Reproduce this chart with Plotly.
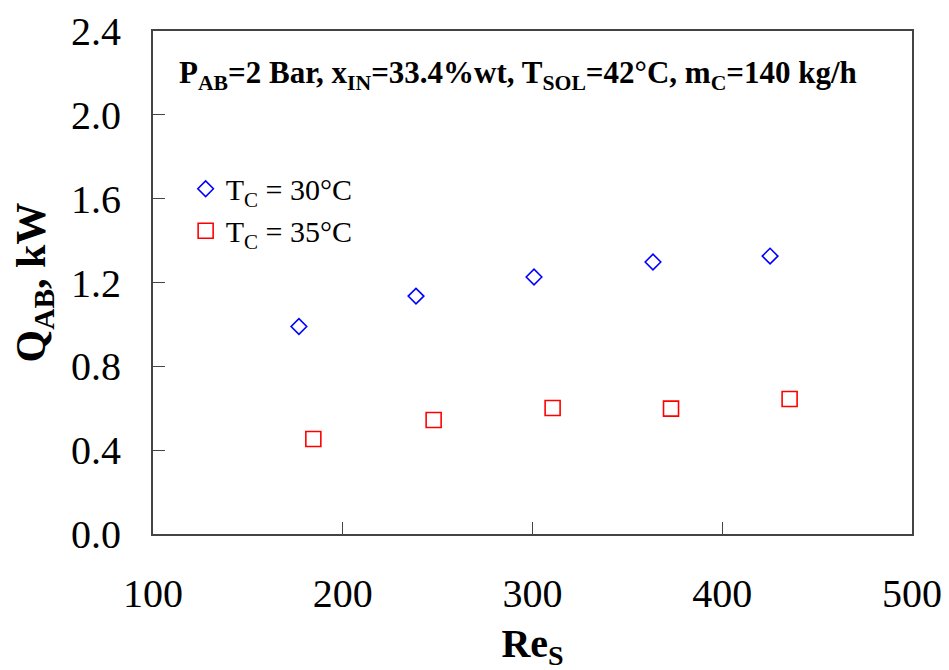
import plotly.graph_objects as go

re_30 = [176.9, 238.6, 300.8, 363.5, 425.2]
q_30 = [0.99, 1.135, 1.226, 1.298, 1.326]
re_35 = [184.5, 247.9, 310.6, 373.0, 435.5]
q_35 = [0.453, 0.544, 0.601, 0.598, 0.644]

x_ticks = [100, 200, 300, 400, 500]
y_ticks = [0.0, 0.4, 0.8, 1.2, 1.6, 2.0, 2.4]

FONT = "Liberation Serif"

fig = go.Figure()
fig.add_trace(go.Scatter(
    x=re_30, y=q_30, mode="markers", name="T<sub>C</sub> = 30°C",
    marker=dict(symbol="diamond-open", size=12, color="#0000FF",
                line=dict(width=1.6, color="#0000FF"))))
fig.add_trace(go.Scatter(
    x=re_35, y=q_35, mode="markers", name="T<sub>C</sub> = 35°C",
    marker=dict(symbol="square-open", size=15, color="#FF0000",
                line=dict(width=1.6, color="#FF0000"))))

fig.update_layout(
    width=949, height=670,
    margin=dict(l=145, r=45, t=23, b=144),
    paper_bgcolor="white", plot_bgcolor="white",
    font=dict(family=FONT, color="black"),
    showlegend=True,
    legend=dict(x=0.043, y=0.738, xanchor="left", yanchor="top",
                bgcolor="rgba(0,0,0,0)", font=dict(size=30, family=FONT),
                tracegroupgap=0, itemsizing="trace"),
    xaxis=dict(range=[100, 500], tickvals=x_ticks, ticktext=[str(v) for v in x_ticks],
               ticks="inside", ticklen=12, tickwidth=1, tickcolor="#444",
               showline=True, linecolor="#444", linewidth=2, mirror=True,
               showgrid=False, zeroline=False, automargin=False,
               tickfont=dict(size=40, family=FONT), ticklabelstandoff=23,
               title=dict(text="<b>Re<sub>S</sub></b>", font=dict(size=40, family=FONT),
                          standoff=14)),
    yaxis=dict(range=[0, 2.4], tickvals=y_ticks, ticktext=[f"{v:.1f}" for v in y_ticks],
               ticks="inside", ticklen=12, tickwidth=1, tickcolor="#444",
               showline=True, linecolor="#444", linewidth=2, mirror=True,
               showgrid=False, zeroline=False, automargin=False,
               tickfont=dict(size=40, family=FONT), ticklabelstandoff=22,
               title=dict(text="<b>Q<sub>AB</sub>, kW</b>", font=dict(size=42, family=FONT),
                          standoff=18)),
)

fig.add_annotation(
    x=0.481, y=0.912, xref="paper", yref="paper", xanchor="center", yanchor="middle",
    text="<b>P<sub>AB</sub>=2 Bar, x<sub>IN</sub>=33.4%wt, T<sub>SOL</sub>=42°C, m<sub>C</sub>=140 kg/h</b>",
    showarrow=False, font=dict(size=31, family=FONT, color="black"))

fig.write_html("out.html")
